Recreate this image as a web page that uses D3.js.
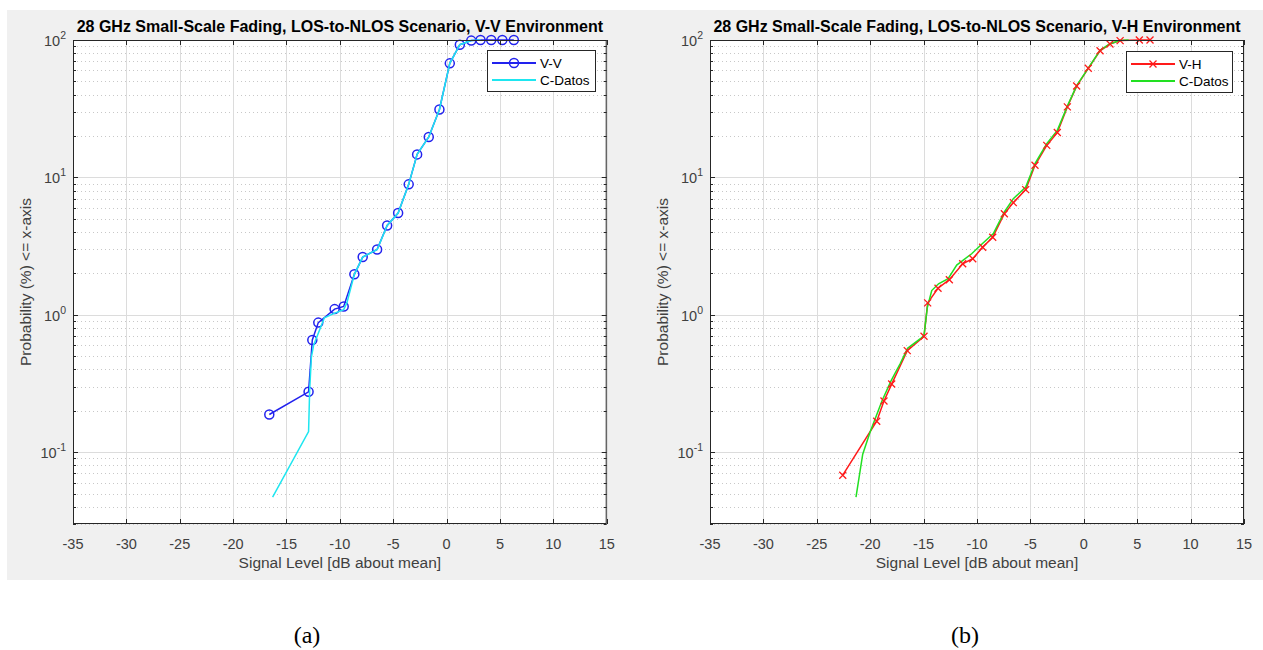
<!DOCTYPE html>
<html>
<head>
<meta charset="utf-8">
<script src="https://cdn.jsdelivr.net/npm/d3@7"></script>
<style>
  html, body { margin: 0; padding: 0; background: #ffffff; }
  svg { display: block; }
</style>
</head>
<body>
<svg id="chart" width="1263" height="650"></svg>
<script>
// ---------- data ----------
const xTicks = [-35, -30, -25, -20, -15, -10, -5, 0, 5, 10, 15];
const yDecades = [-1, 0, 1, 2];

const titleA = "28 GHz Small-Scale Fading, LOS-to-NLOS Scenario, V-V Environment";
const titleB = "28 GHz Small-Scale Fading, LOS-to-NLOS Scenario, V-H Environment";
const xLabel = "Signal Level [dB about mean]";
const yLabel = "Probability (%) <= x-axis";

// (a) V-V measured
const vvX = [-16.61, -12.93, -12.58, -12.02, -10.49, -9.64, -8.64, -7.86, -6.51, -5.57, -4.54, -3.55, -2.76, -1.67, -0.67, 0.30, 1.24, 2.31, 3.18, 4.18, 5.22, 6.30];
const vvY = [0.188, 0.275, 0.656, 0.877, 1.10, 1.15, 1.97, 2.63, 2.99, 4.47, 5.5, 8.9, 14.7, 19.7, 31.2, 67.6, 92.4, 99, 100, 100, 100, 100];
// (a) C-Datos
const cdaX = [-16.3, -12.93, -12.83, -12.67, -12.46, -11.45, -10.58, -9.64, -9.33, -8.64, -7.86, -6.5, -5.57, -4.54, -3.55, -2.76, -1.67, -0.67, 0.3, 1.24, 2.31, 3.2];
const cdaY = [0.047, 0.141, 0.28, 0.49, 0.6, 0.95, 1.02, 1.09, 1.23, 1.97, 2.63, 2.99, 4.47, 5.5, 8.9, 14.7, 19.7, 31.2, 67.6, 92.4, 99, 100];

// (b) V-H measured
const vhX = [-22.57, -19.39, -18.71, -17.99, -16.53, -14.96, -14.62, -13.65, -12.59, -11.34, -10.4, -9.47, -8.53, -7.44, -6.6, -5.44, -4.57, -3.47, -2.48, -1.54, -0.67, 0.42, 1.52, 2.45, 3.4, 5.2, 6.2];
const vhY = [0.068, 0.168, 0.236, 0.313, 0.548, 0.697, 1.22, 1.56, 1.80, 2.35, 2.56, 3.1, 3.67, 5.44, 6.55, 8.15, 12.25, 17.1, 21.2, 32.6, 46.2, 62.2, 83.5, 93.5, 99, 100, 100];
// (b) C-Datos
const cdbX = [-21.33, -20.7, -20.0, -18.9, -18.05, -17.2, -16.5, -15.3, -14.96, -14.65, -14.24, -13.6, -12.7, -11.9, -10.5, -9.56, -8.47, -7.44, -6.6, -5.44, -4.57, -3.47, -2.48, -1.54, -0.67, 0.42, 1.52, 2.45, 3.4, 4.2];
const cdbY = [0.047, 0.0966, 0.141, 0.236, 0.33, 0.44, 0.57, 0.67, 0.71, 1.13, 1.5, 1.68, 1.83, 2.3, 2.78, 3.26, 3.9, 5.6, 7.0, 8.5, 12.6, 17.6, 22, 33, 46.5, 62.5, 84, 94, 99, 100];

// ---------- drawing ----------
const svg = d3.select("#chart");
svg.append("rect").attr("x", 7).attr("y", 10).attr("width", 1256).attr("height", 570).attr("fill", "#f0f0f0");

const FONT = "'Liberation Sans', Arial, Helvetica, sans-serif";
const TXT = "#404040";

function panel(cfg) {
  const left = cfg.left, right = cfg.right, top = 40, bottom = 524;
  const x = d3.scaleLinear().domain([-35, 15]).range([left, right]);
  const y = d3.scaleLog().domain([0.03, 100]).range([bottom, top]);
  const g = svg.append("g");

  g.append("rect").attr("x", left).attr("y", top).attr("width", right - left).attr("height", bottom - top).attr("fill", "#ffffff");

  // minor y grid (dotted)
  const minor = [];
  for (let d = -2; d <= 1; d++) for (let m = 2; m <= 9; m++) {
    const v = m * Math.pow(10, d);
    if (v >= 0.03 && v <= 100) minor.push(v);
  }
  g.selectAll(".ymin").data(minor).enter().append("line")
    .attr("x1", left).attr("x2", right)
    .attr("y1", d => Math.round(y(d)) + 0.5).attr("y2", d => Math.round(y(d)) + 0.5)
    .attr("stroke", "#c8c8c8").attr("stroke-width", 1).attr("stroke-dasharray", "1,3");

  // major grid
  g.selectAll(".xg").data(xTicks).enter().append("line")
    .attr("x1", d => Math.round(x(d)) + 0.5).attr("x2", d => Math.round(x(d)) + 0.5)
    .attr("y1", top).attr("y2", bottom).attr("stroke", "#dcdcdc").attr("stroke-width", 1);
  g.selectAll(".yg").data(yDecades).enter().append("line")
    .attr("x1", left).attr("x2", right)
    .attr("y1", d => Math.round(y(Math.pow(10, d))) + 0.5).attr("y2", d => Math.round(y(Math.pow(10, d))) + 0.5)
    .attr("stroke", "#dcdcdc").attr("stroke-width", 1);

  // series
  const line = d3.line().x(d => x(d[0])).y(d => y(d[1]));
  const s1 = cfg.s1X.map((v, i) => [v, cfg.s1Y[i]]);
  const s2 = cfg.s2X.map((v, i) => [v, cfg.s2Y[i]]);
  g.append("path").datum(s1).attr("d", line).attr("fill", "none").attr("stroke", cfg.c1).attr("stroke-width", 1.5);
  if (cfg.marker === "o") {
    g.selectAll(".mk").data(s1).enter().append("circle")
      .attr("cx", d => x(d[0])).attr("cy", d => y(d[1])).attr("r", 4.5)
      .attr("fill", "none").attr("stroke", cfg.c1).attr("stroke-width", 1.5);
  }
  g.append("path").datum(s2).attr("d", line).attr("fill", "none").attr("stroke", cfg.c2).attr("stroke-width", 1.5);
  if (cfg.marker === "x") {
    const sz = 3.5;
    g.selectAll(".mk").data(s1).enter().append("path")
      .attr("d", d => { const cx = x(d[0]), cy = y(d[1]); return `M${cx - sz},${cy - sz}L${cx + sz},${cy + sz}M${cx - sz},${cy + sz}L${cx + sz},${cy - sz}`; })
      .attr("fill", "none").attr("stroke", cfg.c1).attr("stroke-width", 1.3);
  }

  // axes box
  g.append("rect").attr("x", left + 0.5).attr("y", top + 0.5).attr("width", right - left - 1).attr("height", bottom - top - 1)
    .attr("fill", "none").attr("stroke", "#262626").attr("stroke-width", 1);

  // ticks (inward)
  const tl = 5;
  xTicks.forEach(t => {
    const px = Math.round(x(t)) + 0.5;
    g.append("line").attr("x1", px).attr("x2", px).attr("y1", bottom).attr("y2", bottom - tl).attr("stroke", "#262626");
    g.append("line").attr("x1", px).attr("x2", px).attr("y1", top).attr("y2", top + tl).attr("stroke", "#262626");
  });
  yDecades.forEach(d => {
    const py = Math.round(y(Math.pow(10, d))) + 0.5;
    g.append("line").attr("x1", left).attr("x2", left + tl).attr("y1", py).attr("y2", py).attr("stroke", "#262626");
    g.append("line").attr("x1", right).attr("x2", right - tl).attr("y1", py).attr("y2", py).attr("stroke", "#262626");
  });
  minor.forEach(v => {
    const py = Math.round(y(v)) + 0.5;
    g.append("line").attr("x1", left).attr("x2", left + 3).attr("y1", py).attr("y2", py).attr("stroke", "#262626");
    g.append("line").attr("x1", right).attr("x2", right - 3).attr("y1", py).attr("y2", py).attr("stroke", "#262626");
  });

  // tick labels
  g.selectAll(".xl").data(xTicks).enter().append("text")
    .attr("x", d => x(d)).attr("y", 549).attr("text-anchor", "middle")
    .attr("font-family", FONT).attr("font-size", 14.5).attr("fill", TXT).text(d => d);
  yDecades.forEach(d => {
    const t = g.append("text").attr("x", left - 7).attr("y", y(Math.pow(10, d)) + 6).attr("text-anchor", "end")
      .attr("font-family", FONT).attr("font-size", 14.5).attr("fill", TXT);
    t.append("tspan").text("10");
    t.append("tspan").attr("dy", -7).attr("font-size", 10.5).text(d);
  });

  // axis labels
  g.append("text").attr("x", (left + right) / 2).attr("y", 568).attr("text-anchor", "middle")
    .attr("font-family", FONT).attr("font-size", 15.5).attr("fill", TXT).text(xLabel);
  g.append("text").attr("transform", `translate(${left - 42},${(top + bottom) / 2}) rotate(-90)`).attr("text-anchor", "middle")
    .attr("font-family", FONT).attr("font-size", 15.5).attr("fill", TXT).text(yLabel);

  // title
  g.append("text").attr("x", (left + right) / 2).attr("y", 32).attr("text-anchor", "middle")
    .attr("font-family", FONT).attr("font-size", 16).attr("font-weight", "bold").attr("fill", "#000").text(cfg.title);

  // legend
  const L = cfg.legend;
  g.append("rect").attr("x", L.x + 0.5).attr("y", L.y + 0.5).attr("width", L.w).attr("height", 41)
    .attr("fill", "#ffffff").attr("stroke", "#262626").attr("stroke-width", 1);
  const rows = [{ c: cfg.c1, n: cfg.n1, m: true }, { c: cfg.c2, n: cfg.n2, m: false }];
  rows.forEach((r, i) => {
    const ry = L.y + 13 + i * 17;
    g.append("line").attr("x1", L.x + 5).attr("x2", L.x + 49).attr("y1", ry).attr("y2", ry).attr("stroke", r.c).attr("stroke-width", 1.8);
    if (r.m) {
      const mx = L.x + 27;
      if (cfg.marker === "o") {
        g.append("circle").attr("cx", mx).attr("cy", ry).attr("r", 4.5).attr("fill", "none").attr("stroke", r.c).attr("stroke-width", 1.5);
      } else {
        g.append("path").attr("d", `M${mx - 3.5},${ry - 3.5}L${mx + 3.5},${ry + 3.5}M${mx - 3.5},${ry + 3.5}L${mx + 3.5},${ry - 3.5}`)
          .attr("stroke", r.c).attr("stroke-width", 1.3);
      }
    }
    g.append("text").attr("x", L.x + 53).attr("y", ry + 5).attr("font-family", FONT).attr("font-size", 13.5).attr("fill", "#000").text(r.n);
  });

  // caption
  svg.append("text").attr("x", cfg.capX).attr("y", 643).attr("text-anchor", "middle")
    .attr("font-family", "'Liberation Serif', 'Times New Roman', serif").attr("font-size", 24).attr("fill", "#000").text(cfg.cap);
}

panel({ left: 73, right: 606.7, title: titleA, s1X: vvX, s1Y: vvY, s2X: cdaX, s2Y: cdaY,
  c1: "#2222ee", c2: "#1ee6f0", marker: "o", n1: "V-V", n2: "C-Datos",
  legend: { x: 487, y: 50, w: 108 }, cap: "(a)", capX: 307 });
panel({ left: 710, right: 1244, title: titleB, s1X: vhX, s1Y: vhY, s2X: cdbX, s2Y: cdbY,
  c1: "#ff1a1a", c2: "#22e022", marker: "x", n1: "V-H", n2: "C-Datos",
  legend: { x: 1126, y: 51, w: 106 }, cap: "(b)", capX: 965 });
</script>
</body>
</html>
